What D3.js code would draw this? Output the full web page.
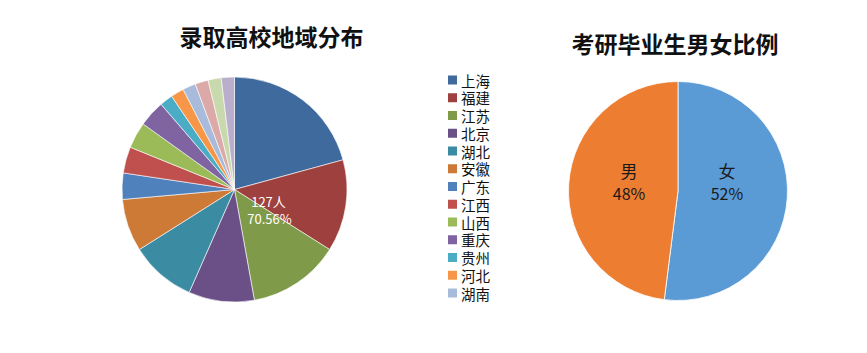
<!DOCTYPE html>
<html><head><meta charset="utf-8">
<script src="https://cdn.jsdelivr.net/npm/d3@7"></script>
<style>body{margin:0;background:#fff}svg{display:block}</style>
</head><body>
<svg id="c" width="867" height="353"></svg>
<script>
const regions = ["上海","福建","江苏","北京","湖北","安徽","广东","江西","山西","重庆","贵州","河北","湖南","四川","山东","河南"];
const regionCounts = [22,14,14,10,10,8,4,4,4,4,2,2,2,2,2,2];
const regionColors = ["#3E6A9E","#9E413E","#7F9A48","#6A5087","#3B8BA2","#CC7A36","#4F81BD","#C0504D","#9BBB59","#8064A2","#4BACC6","#F79646","#A9BBDA","#DAA9A8","#C8D9AE","#BAAECD"];
const legendShown = 13;
const regionLabel = ["127人","70.56%"];

const genders = ["女","男"];
const genderPct = [52,48];
const genderColors = ["#5B9BD5","#ED7D31"];

const svg = d3.select("#c");
const font = "'Noto Sans CJK SC','Noto Sans',sans-serif";

// Left title
svg.append("text").attr("x",271.5).attr("y",36).attr("text-anchor","middle")
  .attr("dominant-baseline","central").attr("font-family",font)
  .attr("font-size",23).attr("font-weight","bold").attr("fill","#111")
  .text("录取高校地域分布");

// Left pie
const pie = d3.pie().sort(null).value(d=>d);
const arc1 = d3.arc().innerRadius(0).outerRadius(112.5);
const g1 = svg.append("g").attr("transform","translate(234.5,189.5)");
g1.selectAll("path").data(pie(regionCounts)).join("path")
  .attr("d",arc1).attr("fill",(d,i)=>regionColors[i])
  .attr("stroke","#fff").attr("stroke-width",0.6);
g1.append("text").attr("x",34).attr("y",12).attr("text-anchor","middle")
  .attr("dominant-baseline","central").attr("font-family",font).attr("font-size",13)
  .attr("fill","#fff").text(regionLabel[0]);
g1.append("text").attr("x",35).attr("y",29).attr("text-anchor","middle")
  .attr("dominant-baseline","central").attr("font-family",font).attr("font-size",13)
  .attr("fill","#fff").text(regionLabel[1]);

// Legend
const ly = d3.scaleLinear().domain([0,legendShown-1]).range([80,293]);
const lg = svg.append("g");
regions.slice(0,legendShown).forEach((r,i)=>{
  lg.append("rect").attr("x",448).attr("y",ly(i)-4.5).attr("width",9).attr("height",9)
    .attr("fill",regionColors[i]);
  lg.append("text").attr("x",461).attr("y",ly(i)).attr("dominant-baseline","central")
    .attr("font-family",font).attr("font-size",14.5).attr("fill","#111").text(r);
});

// Right title
svg.append("text").attr("x",675).attr("y",43).attr("text-anchor","middle")
  .attr("dominant-baseline","central").attr("font-family",font)
  .attr("font-size",23).attr("font-weight","bold").attr("fill","#111")
  .text("考研毕业生男女比例");

// Right pie
const arc2 = d3.arc().innerRadius(0).outerRadius(109.5);
const g2 = svg.append("g").attr("transform","translate(678,191)");
const pd2 = pie(genderPct);
g2.selectAll("path").data(pd2).join("path")
  .attr("d",arc2).attr("fill",(d,i)=>genderColors[i])
  .attr("stroke","#fff").attr("stroke-width",0.8);
const labArc = d3.arc().innerRadius(49).outerRadius(49);
pd2.forEach((d,i)=>{
  const [x] = labArc.centroid(d);
  g2.append("text").attr("x",x).attr("y",-21).attr("text-anchor","middle")
    .attr("dominant-baseline","central").attr("font-family",font).attr("font-size",17)
    .attr("fill","#1a1a1a").text(genders[i]);
  g2.append("text").attr("x",x).attr("y",2).attr("text-anchor","middle")
    .attr("dominant-baseline","central").attr("font-family",font).attr("font-size",16)
    .attr("fill","#1a1a1a").text(genderPct[i]+"%");
});
</script>
</body></html>
